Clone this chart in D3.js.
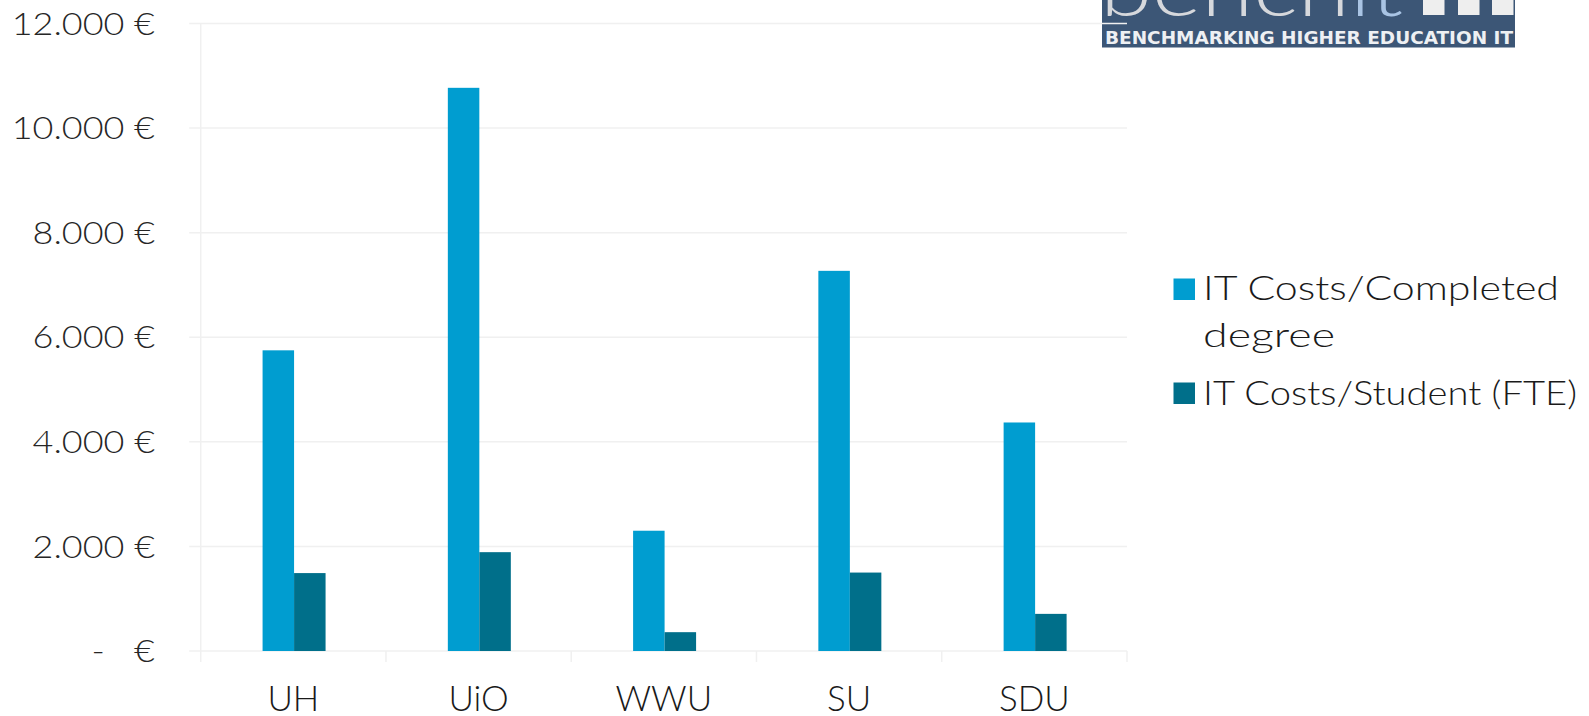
<!DOCTYPE html>
<html>
<head>
<meta charset="utf-8">
<script src="https://cdn.jsdelivr.net/npm/d3@7"></script>
<style>
  html, body { margin: 0; padding: 0; background: #fff; }
  svg { display: block; font-family: "Lato", "DejaVu Sans", sans-serif; }
  .lbl { font-family: "Lato", "DejaVu Sans", sans-serif; font-weight: 300; }
</style>
</head>
<body>
<svg id="chart" width="1589" height="716"></svg>
<script>
// ---- data ----
const categories = ["UH", "UiO", "WWU", "SU", "SDU"];
const seriesNames = ["IT Costs/Completed degree", "IT Costs/Student (FTE)"];
const costPerDegree = [5750, 10770, 2300, 7270, 4370];
const costPerStudent = [1490, 1890, 360, 1500, 710];
const yTicks = [0, 2000, 4000, 6000, 8000, 10000, 12000];
const legendLines = [["IT Costs/Completed", "degree"], ["IT Costs/Student (FTE)"]];
const logoSubtitle = "BENCHMARKING HIGHER EDUCATION IT";

const colors = ["#009dd0", "#006f8a"];
const series = [costPerDegree, costPerStudent];

const svg = d3.select("#chart");

// ---- logo (behind the chart) ----
const logo = svg.append("g");
logo.append("defs").append("clipPath").attr("id", "logoclip")
  .append("rect").attr("x", 1102).attr("y", 0).attr("width", 413).attr("height", 17);
logo.append("rect").attr("x", 1102).attr("y", 0).attr("width", 413).attr("height", 47.5).attr("fill", "#3c5676");
const bigText = logo.append("text").attr("x", 1100).attr("y", 15.5).attr("clip-path", "url(#logoclip)")
  .attr("font-size", 74).attr("font-family", "Lato, DejaVu Sans").attr("font-weight", 300)
  .attr("textLength", 303).attr("lengthAdjust", "spacingAndGlyphs");
bigText.append("tspan").attr("fill", "#d6d8dc").text("bench");
bigText.append("tspan").attr("fill", "#a9c4e4").text("it");
[1423, 1458, 1492].forEach(x => {
  logo.append("rect").attr("x", x).attr("y", 0).attr("width", 21.5).attr("height", 15).attr("fill", "#eeeeee");
});
logo.append("text").attr("x", 1105).attr("y", 44).attr("fill", "#eef0f3")
  .attr("font-size", 17.5).attr("font-weight", "bold").attr("font-family", "DejaVu Sans")
  .attr("textLength", 408).attr("lengthAdjust", "spacingAndGlyphs").text(logoSubtitle);

// ---- scales ----
const plotLeft = 200.7, plotRight = 1127, plotBottom = 651, plotTop = 23.5;
const x0 = d3.scaleBand().domain(categories).range([plotLeft, plotRight]).paddingInner(0).paddingOuter(0);
const bw = x0.bandwidth();
const x1 = d3.scaleBand().domain([0, 1]).range([bw * 0.334, bw * 0.674]).padding(0);
const y = d3.scaleLinear().domain([0, 12000]).range([plotBottom, plotTop]);

const gridColor = "#f0f0f0";

// horizontal gridlines (with small outer tick to the left)
svg.append("g").selectAll("line").data(yTicks).join("line")
  .attr("x1", plotLeft - 11.5).attr("x2", plotRight)
  .attr("y1", d => y(d)).attr("y2", d => y(d))
  .attr("stroke", gridColor).attr("stroke-width", 1.5);

// vertical axis line
svg.append("line").attr("x1", plotLeft).attr("x2", plotLeft)
  .attr("y1", plotTop).attr("y2", plotBottom + 11)
  .attr("stroke", gridColor).attr("stroke-width", 1.5);

// category boundary ticks
const boundaries = categories.slice(1).map(c => x0(c)).concat([plotRight]);
svg.append("g").selectAll("line").data(boundaries).join("line")
  .attr("x1", d => d).attr("x2", d => d)
  .attr("y1", plotBottom).attr("y2", plotBottom + 11)
  .attr("stroke", gridColor).attr("stroke-width", 1.5);

// y axis labels (stretched to the wide reference face)
const fmt = v => v === 0 ? "-   €" : d3.format(",")(v).replace(/,/g, ".") + " €";
svg.append("g").selectAll("text").data(yTicks).join("text")
  .attr("class", "lbl")
  .attr("x", 155).attr("y", d => y(d)).attr("dy", "0.36em")
  .attr("text-anchor", "end").attr("font-size", 31).attr("fill", "#262626")
  .style("white-space", "pre").attr("xml:space", "preserve")
  .text(fmt)
  .each(function() {
    const len = this.getComputedTextLength();
    d3.select(this).attr("textLength", len * 1.16).attr("lengthAdjust", "spacingAndGlyphs");
  });

// bars
const groups = svg.append("g").selectAll("g").data(categories).join("g")
  .attr("transform", c => `translate(${x0(c)},0)`);
groups.selectAll("rect").data((c, i) => series.map((s, k) => ({ k, v: s[i] }))).join("rect")
  .attr("x", d => x1(d.k)).attr("width", x1.bandwidth())
  .attr("y", d => y(d.v)).attr("height", d => y(0) - y(d.v))
  .attr("fill", d => colors[d.k]);

// x labels
svg.append("g").selectAll("text").data(categories).join("text")
  .attr("class", "lbl")
  .attr("x", c => x0(c) + bw / 2).attr("y", 710.5)
  .attr("text-anchor", "middle").attr("font-size", 35).attr("fill", "#1a1a1a")
  .text(c => c);

// legend
const legendTop = [278.5, 382.5];
const legendBaselines = [[300, 346.7], [404.5]];
const legendWidths = [[356, 132], [374]];
const lg = svg.append("g");
seriesNames.forEach((name, k) => {
  lg.append("rect").attr("x", 1173.5).attr("y", legendTop[k]).attr("width", 21.5).attr("height", 21.5)
    .attr("fill", colors[k]);
  legendLines[k].forEach((line, j) => {
    lg.append("text").attr("class", "lbl").attr("x", 1203).attr("y", legendBaselines[k][j])
      .attr("font-size", 34).attr("fill", "#1a1a1a")
      .attr("textLength", legendWidths[k][j]).attr("lengthAdjust", "spacingAndGlyphs")
      .text(line);
  });
});
</script>
</body>
</html>
